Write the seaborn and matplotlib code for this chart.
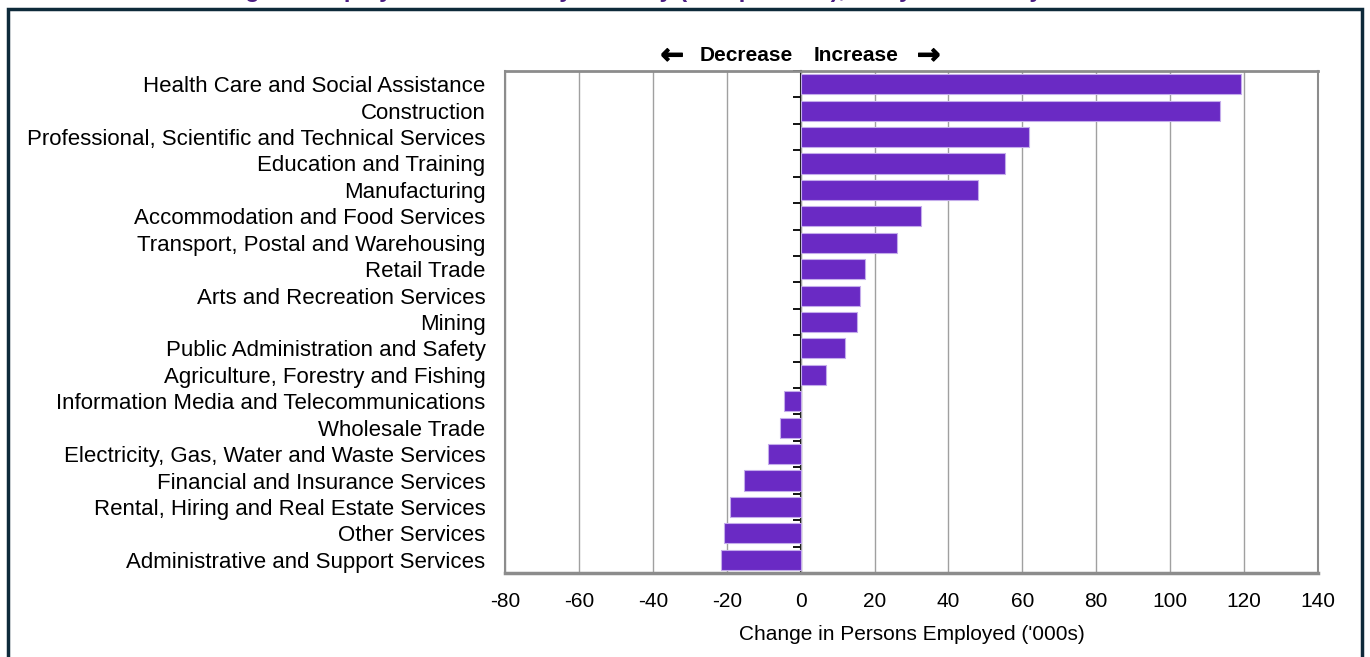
import numpy as np
import pandas as pd
import matplotlib
matplotlib.use("Agg")
import matplotlib.pyplot as plt
import matplotlib.patheffects as pe
import seaborn as sns
from matplotlib.patches import Rectangle

industries = [
    "Health Care and Social Assistance",
    "Construction",
    "Professional, Scientific and Technical Services",
    "Education and Training",
    "Manufacturing",
    "Accommodation and Food Services",
    "Transport, Postal and Warehousing",
    "Retail Trade",
    "Arts and Recreation Services",
    "Mining",
    "Public Administration and Safety",
    "Agriculture, Forestry and Fishing",
    "Information Media and Telecommunications",
    "Wholesale Trade",
    "Electricity, Gas, Water and Waste Services",
    "Financial and Insurance Services",
    "Rental, Hiring and Real Estate Services",
    "Other Services",
    "Administrative and Support Services",
]
change = [119.1, 113.5, 61.8, 55.3, 48.1, 32.6, 26.1, 17.4, 16.1, 15.3, 12.0, 6.9,
          -4.6, -5.5, -8.9, -15.4, -19.0, -20.8, -21.5]
xticks = [-80, -60, -40, -20, 0, 20, 40, 60, 80, 100, 120, 140]
xlabel = "Change in Persons Employed ('000s)"
title = "Change in Employment Growth by Industry ('000 persons), five years to May 2019"

sns.set_theme(style="white")
plt.rcParams['font.family'] = ['Liberation Sans', 'DejaVu Sans']

df = pd.DataFrame({"Industry": industries, "Change": change})

fig = plt.figure(figsize=(13.7, 6.57), dpi=100)
ax = fig.add_axes([505/1370, 1-573/657, (1318-505)/1370, (573-71)/657])

sns.barplot(data=df, y="Industry", x="Change", order=industries, orient="h",
            color="#6A2AC4", saturation=1, width=0.76, ax=ax,
            edgecolor="#C4ACEB", linewidth=0.8, zorder=3)

ax.set_xlim(-80, 140)
ax.set_ylim(len(industries) - 0.5, -0.5)
ax.set_xticks(xticks)
ax.set_xticklabels([str(v) for v in xticks], fontsize=15, color="black")
ax.tick_params(axis="x", length=5, width=1, color="#888888", direction="out", pad=9)
ax.tick_params(axis="y", length=0, pad=14, labelsize=16, labelcolor="black")
ax.set_ylabel("")
ax.set_xlabel(xlabel, fontsize=15, color="black", labelpad=10)
ax.xaxis.grid(True, color="#A0A0A0", linewidth=1, zorder=0)
ax.yaxis.grid(False)
ax.set_axisbelow(True)
for s in ["top", "bottom", "left", "right"]:
    ax.spines[s].set_visible(True)
    ax.spines[s].set_color("#8C8C8C")
    ax.spines[s].set_linewidth(1.5)
ax.spines["bottom"].set_linewidth(2.5)
ax.spines["top"].set_linewidth(2.0)

# category axis crossing at zero
sec = ax.secondary_yaxis(80/220)
sec.set_yticks(np.arange(-0.5, len(industries), 1.0))
sec.set_yticklabels([])
sec.tick_params(axis="y", length=6, width=1.3, color="black", direction="out")
sec.spines["left"].set_color("black")
sec.spines["left"].set_linewidth(1.5)

# arrows annotation
tr = ax.get_xaxis_transform()
yb = 1 + 10/502
ax.text(-2.1, yb, "Decrease", transform=tr, ha="right", va="baseline",
        fontsize=15, fontweight="bold", color="black")
ax.text(3.4, yb, "Increase", transform=tr, ha="left", va="baseline",
        fontsize=15, fontweight="bold", color="black")
thick = [pe.withStroke(linewidth=0.9, foreground="black")]
ax.text(-31.6, yb - 0.005, "\u2190", transform=tr, ha="right", va="baseline",
        fontsize=20, fontweight="bold", color="black", family=["DejaVu Sans"],
        path_effects=thick)
ax.text(31.5, yb - 0.005, "\u2192", transform=tr, ha="left", va="baseline",
        fontsize=20, fontweight="bold", color="black", family=["DejaVu Sans"],
        path_effects=thick)

# outer frame
fig.patches.append(Rectangle((8/1370, -0.05), (1362-8)/1370, 1 - 9/657 + 0.05,
                             transform=fig.transFigure, fill=False,
                             edgecolor="#0E2A3A", linewidth=2.5))

# clipped title (only the descenders show, as in the reference)
fig.text(0.47, 1 + 3/657, title, ha="center", va="baseline", fontsize=17,
         fontweight="bold", color="#4A1C82")

fig.savefig("out.png", dpi=100)
